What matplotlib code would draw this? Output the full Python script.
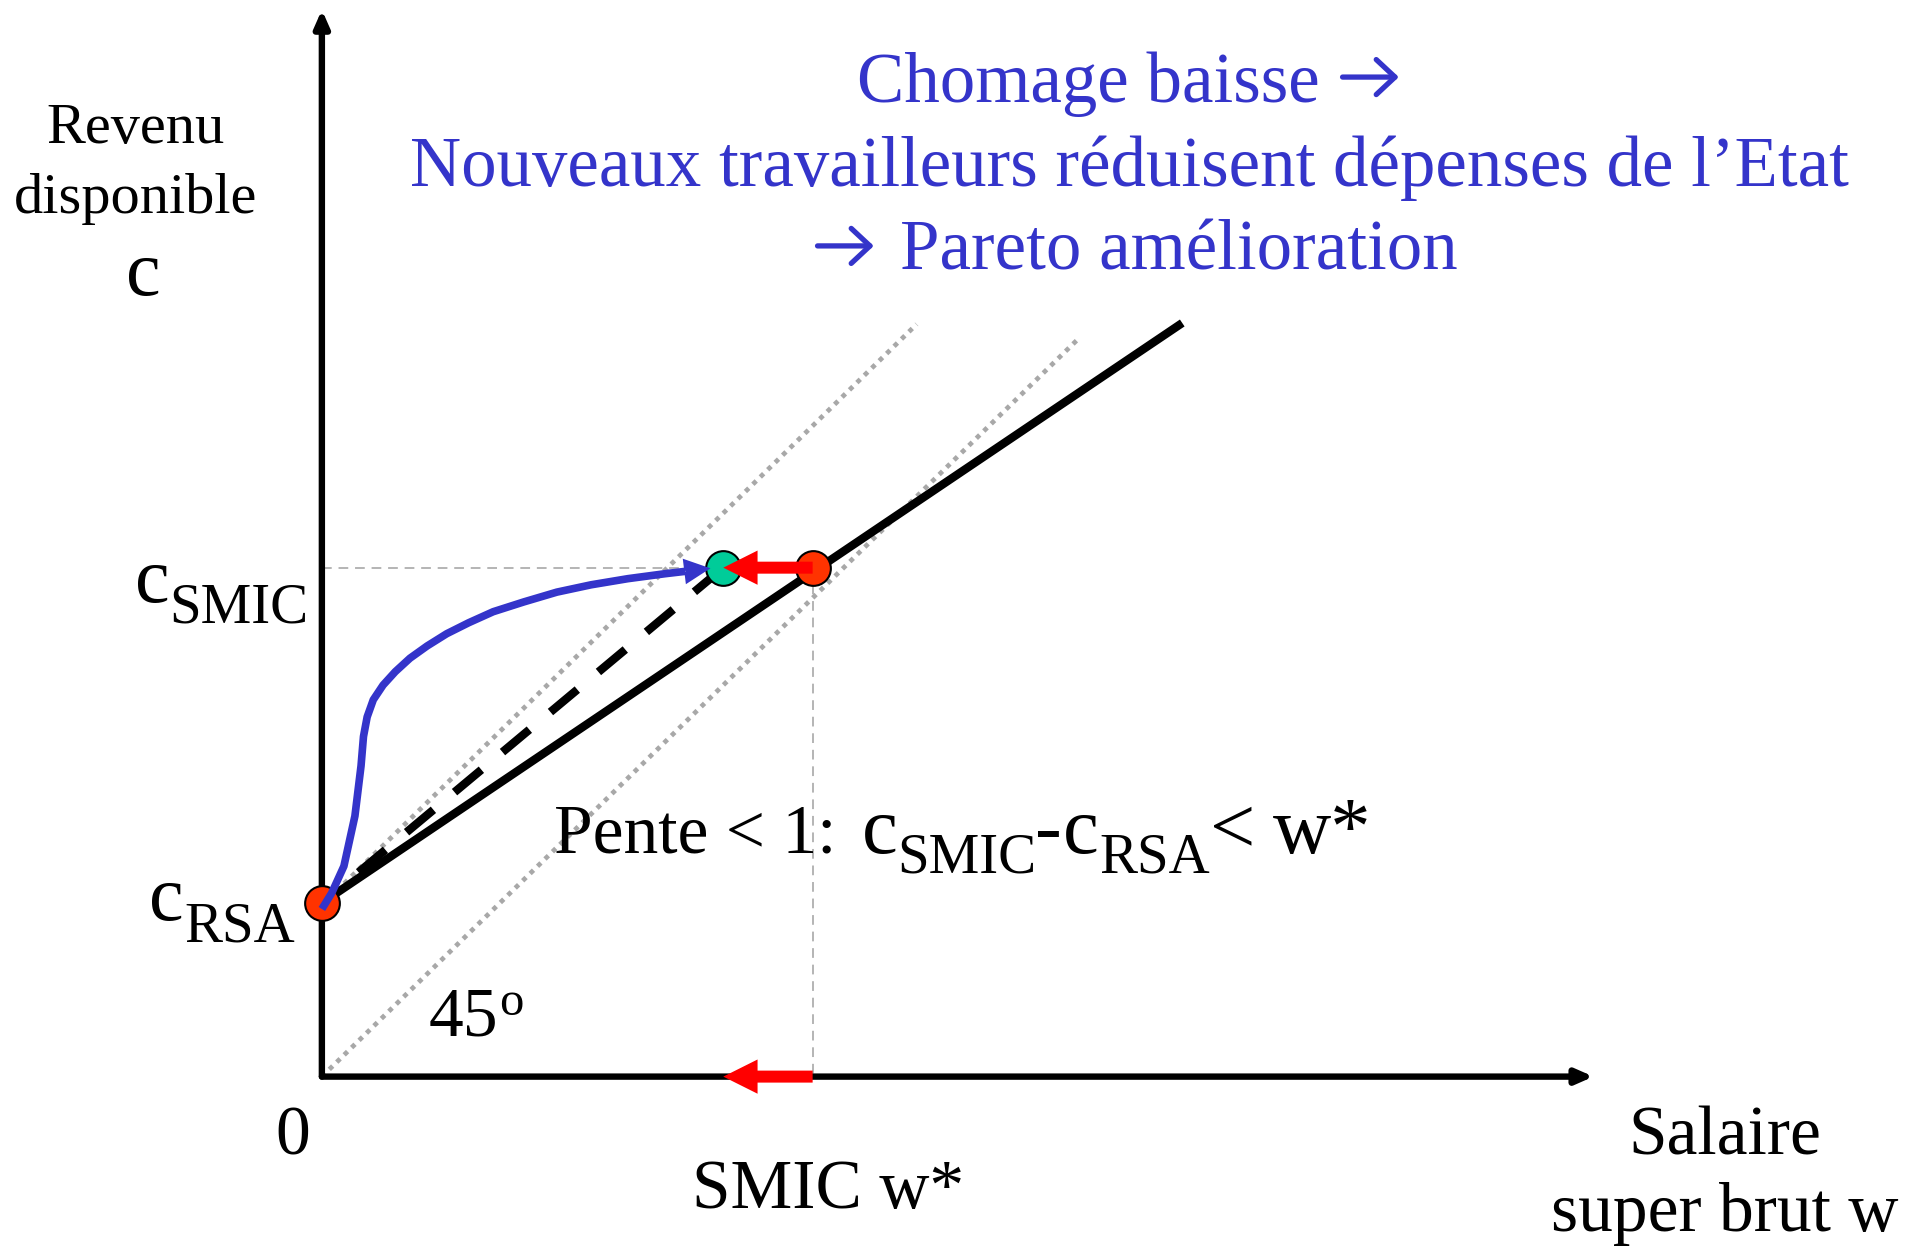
import matplotlib
matplotlib.use('Agg')
import matplotlib.pyplot as plt

plt.rcParams['font.family'] = ['Liberation Serif', 'DejaVu Serif']

# valeurs du schema (unites arbitraires, origine = 0)
c_rsa = 1.42
c_smic = 4.16
w_star = 4.01
w_new = 3.28

# contrainte budgetaire (pente < 1)
budget_w = [0.0, 7.03]
budget_c = [1.42, 6.16]
# nouvelle contrainte (tirets)
new_w = [0.30, 3.28]
new_c = [1.67, 4.16]
# droites a 45 degres (pointilles)
diag_low_w = [0.0, 6.17]
diag_low_c = [0.0, 6.02]
diag_up_w = [0.0, 4.86]
diag_up_c = [1.40, 6.15]

# courbe bleue (le dernier point = pointe de la fleche)
blue_w = [0.0, 0.08, 0.18, 0.27, 0.32, 0.34, 0.37, 0.42, 0.50, 0.60, 0.72, 0.86, 1.02,
          1.20, 1.40, 1.65, 1.92, 2.20, 2.50, 2.80, 2.97, 3.175]
blue_c = [1.37, 1.50, 1.72, 2.13, 2.54, 2.78, 2.94, 3.08, 3.20, 3.31, 3.42, 3.52, 3.62,
          3.71, 3.80, 3.88, 3.96, 4.02, 4.07, 4.11, 4.13, 4.155]

y_top = 8.72
x_right = 10.39

blue = '#3434CA'
grey = '#B4B4B4'
dot_grey = '#A8A8A8'

fig = plt.figure(figsize=(19.19, 12.54), dpi=100)
ax = fig.add_axes([0, 0, 1, 1])
ax.set_xlim(-2.63, 13.05)
ax.set_ylim(-1.45, 8.80)
ax.axis('off')
renderer = fig.canvas.get_renderer()


def runs(x, y, parts, **kw):
    # texte compose : (texte, taille, decalage vertical, espace avant)
    for s, size, dy, gap in parts:
        x += gap
        t = ax.text(x, y + dy, s, fontsize=size, ha='left', va='baseline', **kw)
        bb = t.get_window_extent(renderer)
        x = ax.transData.inverted().transform((bb.x1, bb.y0))[0]
    return x


# axes avec fleches
axis_style = dict(arrowstyle='-|>,head_length=0.5,head_width=0.22', lw=4.6,
                  color='black', shrinkA=0, shrinkB=0, mutation_scale=20)
ax.annotate('', xy=(0, y_top), xytext=(0, 0), arrowprops=axis_style, zorder=3)
ax.annotate('', xy=(x_right, 0), xytext=(0, 0), arrowprops=axis_style, zorder=3)

# reperes gris
ax.plot([0, w_star], [c_smic, c_smic], color=grey, lw=1.4, ls=(0, (5, 3.5)), zorder=1)
ax.plot([w_star, w_star], [c_smic, 0], color=grey, lw=1.4, ls=(0, (5, 3.5)), zorder=1)
ax.plot(diag_low_w, diag_low_c, color=dot_grey, lw=3.4, ls=(0, (1, 1.2)), zorder=1)
ax.plot(diag_up_w, diag_up_c, color=dot_grey, lw=3.4, ls=(0, (1, 1.2)), zorder=1)

ax.plot(budget_w, budget_c, color='black', lw=6, solid_capstyle='butt', zorder=2)
ax.plot(new_w, new_c, color='black', lw=6, ls=(0, (4.2, 3.3)), dash_capstyle='butt', zorder=2)

ax.plot([0, w_star], [c_rsa, c_smic], 'o', ms=25, mfc='#FF3300', mec='black', mew=1.5, zorder=4)
ax.plot([w_new], [c_smic], 'o', ms=25, mfc='#00CC99', mec='black', mew=1.5, zorder=4)

ax.plot(blue_w[:-1], blue_c[:-1], color=blue, lw=5.5, solid_capstyle='butt',
        solid_joinstyle='round', zorder=5)
ax.arrow(blue_w[-2], blue_c[-2], blue_w[-1] - blue_w[-2], blue_c[-1] - blue_c[-2],
         width=0.01, head_width=0.21, head_length=0.215, length_includes_head=True,
         fc=blue, ec='none', zorder=5)

# fleches rouges
ax.arrow(w_star, c_smic, w_new - w_star, 0, width=0.098, head_width=0.28, head_length=0.28,
         length_includes_head=True, fc='#FF0000', ec='none', zorder=6)
ax.arrow(w_star, 0, w_new - w_star, 0, width=0.098, head_width=0.28, head_length=0.28,
         length_includes_head=True, fc='#FF0000', ec='none', zorder=6)

# titre en bleu
title_arrow = dict(arrowstyle='->,head_length=0.45,head_width=0.42', lw=3.8, color=blue,
                   shrinkA=0, shrinkB=0, mutation_scale=30)
ax.text(4.37, 7.97, 'Chomage baisse', color=blue, fontsize=51, ha='left', va='baseline')
ax.annotate('', xy=(8.80, 8.17), xytext=(8.34, 8.17), arrowprops=title_arrow)
ax.text(6.60, 7.28, 'Nouveaux travailleurs r\u00e9duisent d\u00e9penses de l\u2019Etat',
        color=blue, fontsize=51, ha='center', va='baseline')
ax.annotate('', xy=(4.51, 6.79), xytext=(4.05, 6.79), arrowprops=title_arrow)
ax.text(4.72, 6.60, 'Pareto am\u00e9lioration', color=blue, fontsize=51, ha='left', va='baseline')

# etiquettes
ax.text(-1.52, 7.63, 'Revenu', fontsize=42, ha='center', va='baseline')
ax.text(-1.52, 7.06, 'disponible', fontsize=42, ha='center', va='baseline')
ax.text(-1.46, 6.39, 'c', fontsize=56, ha='center', va='baseline')

runs(-1.53, 3.88, [('c', 56, 0, 0), ('SMIC', 41, -0.17, 0.0)])
runs(-1.41, 1.28, [('c', 56, 0, 0), ('RSA', 41, -0.175, 0.0)])

ax.text(1.90, 1.83, 'Pente < 1:', fontsize=50, ha='left', va='baseline')
runs(4.41, 1.83, [('c', 58, 0, 0), ('SMIC', 41, -0.16, 0.0), ('-', 58, 0, -0.01),
                  ('c', 58, 0, 0.01), ('RSA', 41, -0.16, 0.0), ('<', 58, 0, 0.0),
                  ('w*', 58, 0, 0.15)])

ax.text(0.876, 0.34, '45', fontsize=50, ha='left', va='baseline')
ax.text(1.45, 0.50, 'o', fontsize=35, ha='left', va='baseline')
ax.text(-0.24, -0.64, '0', fontsize=50, ha='center', va='baseline')
ax.text(4.14, -1.07, 'SMIC w*', fontsize=50, ha='center', va='baseline')
ax.text(11.46, -0.64, 'Salaire', fontsize=50, ha='center', va='baseline')
ax.text(11.46, -1.26, 'super brut w', fontsize=50, ha='center', va='baseline')

fig.savefig('out.png', dpi=100)
